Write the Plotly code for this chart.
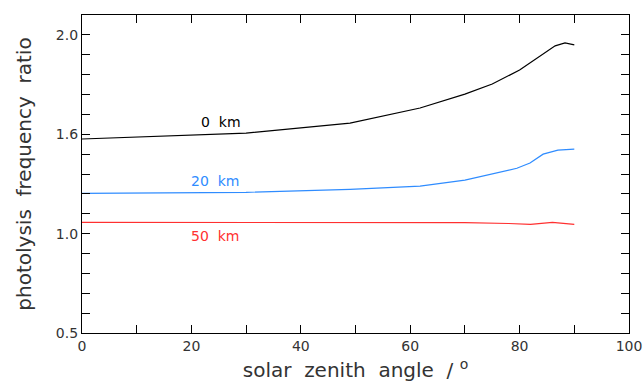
import plotly.graph_objects as go

# solar zenith angle (degrees)
sza_0km = [0, 30, 49, 61.8, 70, 75, 80, 82.8, 86.5, 88.3, 90]
ratio_0km = [1.476, 1.506, 1.556, 1.632, 1.702, 1.753, 1.823, 1.874, 1.945, 1.960, 1.950]

sza_20km = [0, 30, 49, 61.8, 70, 75, 79.5, 81.9, 84.3, 87, 90]
ratio_20km = [1.203, 1.208, 1.223, 1.239, 1.269, 1.299, 1.329, 1.355, 1.400, 1.420, 1.425]

sza_50km = [0, 30, 49, 61.8, 70, 78, 82, 86, 90]
ratio_50km = [1.057, 1.057, 1.057, 1.057, 1.055, 1.051, 1.047, 1.057, 1.047]

y_tickvals = [0.5, 1.0, 1.5, 2.0]
y_ticktext = ["0.5", "1.0", "1.6", "2.0"]

FONT = "DejaVu Sans"

fig = go.Figure()
series = [
    (sza_0km, ratio_0km, "black", "0 km", 25.4, 1.561),
    (sza_20km, ratio_20km, "#2f8cff", "20 km", 24.3, 1.264),
    (sza_50km, ratio_50km, "#ff3030", "50 km", 24.3, 0.99),
]
for xs, ys, color, name, lx, ly in series:
    fig.add_trace(go.Scatter(x=xs, y=ys, mode="lines", name=name,
                             line=dict(color=color, width=1.2)))
    fig.add_annotation(x=lx, y=ly, text=name.replace(" ", "&nbsp;&nbsp;"), showarrow=False,
                       font=dict(family=FONT, size=14, color=color))

axis_common = dict(
    showline=True, linecolor="black", linewidth=1.2, mirror="ticks",
    ticks="inside", ticklen=8, tickcolor="black", tickwidth=1,
    showgrid=False, zeroline=False, automargin=False,
    tickfont=dict(family=FONT, size=14, color="#333"),
)

fig.update_layout(
    width=643, height=389,
    margin=dict(l=82, r=14, t=15, b=56),
    paper_bgcolor="white", plot_bgcolor="white",
    showlegend=False,
    xaxis=dict(
        range=[0, 100], tickmode="linear", tick0=0, dtick=20,
        minor=dict(dtick=10, ticks="inside", ticklen=8, tickcolor="black", showgrid=False),
        title=dict(text="solar&nbsp; zenith&nbsp; angle&nbsp; /&nbsp;<sup>o</sup>",
                   font=dict(family=FONT, size=20, color="#333"), standoff=10),
        **axis_common,
    ),
    yaxis=dict(
        range=[0.5, 2.1], tickmode="array", tickvals=y_tickvals, ticktext=y_ticktext,
        minor=dict(tick0=0.5, dtick=0.1, ticks="inside", ticklen=8, tickcolor="black", showgrid=False),
        title=dict(text="photolysis&nbsp; frequency&nbsp; ratio",
                   font=dict(family=FONT, size=20, color="#333"), standoff=18),
        **axis_common,
    ),
)

fig.write_html("out.html")
